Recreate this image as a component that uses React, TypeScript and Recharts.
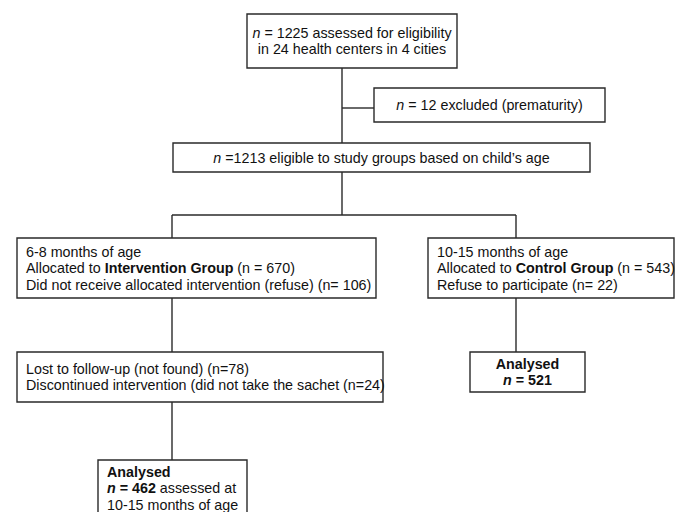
import React from "react";
import { ComposedChart, XAxis, YAxis, Scatter, ReferenceArea, ReferenceLine } from "recharts";

type Seg = { t: string; b?: boolean; i?: boolean };

// Text content of each box (lines made of styled segments)
const assessedText: Seg[][] = [
  [{ t: "n", i: true }, { t: " = 1225 assessed for eligibility" }],
  [{ t: "in 24 health centers in 4 cities" }],
];
const excludedText: Seg[][] = [[{ t: "n", i: true }, { t: " = 12 excluded (prematurity)" }]];
const eligibleText: Seg[][] = [[{ t: "n", i: true }, { t: " =1213 eligible to study groups based on child\u2019s age" }]];
const interventionText: Seg[][] = [
  [{ t: "6-8 months of age" }],
  [{ t: "Allocated to " }, { t: "Intervention Group", b: true }, { t: " (n = 670)" }],
  [{ t: "Did not receive allocated intervention (refuse) (n= 106)" }],
];
const controlText: Seg[][] = [
  [{ t: "10-15 months of age" }],
  [{ t: "Allocated to " }, { t: "Control Group", b: true }, { t: " (n = 543)" }],
  [{ t: "Refuse to participate (n= 22)" }],
];
const lostText: Seg[][] = [
  [{ t: "Lost to follow-up (not found) (n=78)" }],
  [{ t: "Discontinued intervention (did not take the sachet (n=24)" }],
];
const analysedControlText: Seg[][] = [
  [{ t: "Analysed", b: true }],
  [{ t: "n", b: true, i: true }, { t: " = 521", b: true }],
];
const analysedInterventionText: Seg[][] = [
  [{ t: "Analysed", b: true }],
  [{ t: "n", b: true, i: true }, { t: " = 462", b: true }, { t: " assessed at" }],
  [{ t: "10-15 months of age" }],
];

// Layout of the boxes (diagram coordinates)
const nodeLayout = [
  { x1: 247, x2: 457, y1: 14, y2: 68, align: "center", text: assessedText },
  { x1: 374, x2: 605, y1: 88, y2: 122, align: "center", text: excludedText },
  { x1: 173, x2: 590, y1: 143, y2: 172, align: "center", text: eligibleText },
  { x1: 17, x2: 376, y1: 238, y2: 298, align: "left", text: interventionText },
  { x1: 428, x2: 674, y1: 238, y2: 298, align: "left", text: controlText },
  { x1: 17, x2: 383, y1: 352, y2: 402, align: "left", text: lostText },
  { x1: 470, x2: 585, y1: 352, y2: 392, align: "center", text: analysedControlText },
  { x1: 98, x2: 247, y1: 460, y2: 516, align: "left", text: analysedInterventionText },
];

// Connector segments
const connectors = [
  [342, 68, 342, 143],
  [342, 108, 374, 108],
  [342, 172, 342, 215],
  [172, 215, 516, 215],
  [172, 215, 172, 238],
  [516, 215, 516, 238],
  [172, 298, 172, 352],
  [516, 298, 516, 352],
  [172, 402, 172, 460],
];

const LINE_H = 16.5;
const PAD_X = 9;
const STROKE = "#2a2a2a";
const FONT = "'Liberation Sans', Arial, Helvetica, sans-serif";

const textPoints = nodeLayout.flatMap((n) => {
  const cy = (n.y1 + n.y2) / 2;
  const count = n.text.length;
  return n.text.map((segs, i) => ({
    x: n.align === "center" ? (n.x1 + n.x2) / 2 : n.x1 + PAD_X,
    y: cy + (i - (count - 1) / 2) * LINE_H,
    anchor: n.align === "center" ? "middle" : "start",
    segs,
  }));
});

const TextShape = (props: any) => {
  const { cx, cy, payload } = props;
  return (
    <text
      x={cx}
      y={cy}
      textAnchor={payload.anchor}
      dominantBaseline="central"
      fontSize={14.3}
      fontFamily={FONT}
      fill="#111"
    >
      {payload.segs.map((s: Seg, k: number) => (
        <tspan key={k} fontWeight={s.b ? "bold" : "normal"} fontStyle={s.i ? "italic" : "normal"}>
          {s.t}
        </tspan>
      ))}
    </text>
  );
};

export default function App() {
  return (
    <div style={{ position: "absolute", left: 0, top: 0, width: 675, height: 512, background: "#fff", overflow: "hidden" }}>
      <ComposedChart width={675} height={512} data={textPoints} margin={{ top: 0, right: 0, bottom: 0, left: 0 }}>
        <XAxis type="number" dataKey="x" domain={[0, 675]} hide allowDataOverflow />
        <YAxis type="number" dataKey="y" domain={[0, 512]} reversed hide allowDataOverflow />
        {connectors.map((c, i) => (
          <ReferenceLine
            key={"c" + i}
            segment={[{ x: c[0], y: c[1] }, { x: c[2], y: c[3] }]}
            stroke={STROKE}
            strokeWidth={1.4}
            ifOverflow="visible"
          />
        ))}
        {nodeLayout.map((n, i) => (
          <ReferenceArea
            key={"n" + i}
            x1={n.x1}
            x2={n.x2}
            y1={n.y1}
            y2={n.y2}
            fill="#fff"
            fillOpacity={1}
            stroke={STROKE}
            strokeWidth={1.4}
            ifOverflow="visible"
          />
        ))}
        <Scatter dataKey="y" shape={<TextShape />} isAnimationActive={false} />
      </ComposedChart>
    </div>
  );
}
